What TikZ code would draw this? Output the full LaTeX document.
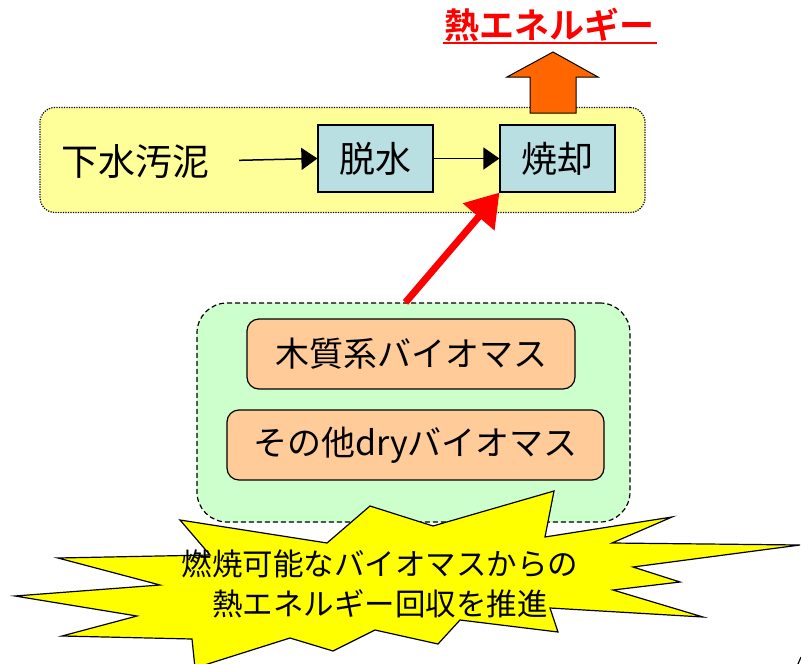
\documentclass[tikz,border=0pt]{standalone}
\usepackage{fontspec}
\newfontfamily\jp[BoldFont={* Bold}]{Noto Sans CJK JP}
\usetikzlibrary{arrows.meta}
\definecolor{procyellow}{HTML}{FFFF99}
\definecolor{boxblue}{HTML}{B9DFE3}
\definecolor{grpgreen}{HTML}{CCFFCC}
\definecolor{peach}{HTML}{FFCC99}
\definecolor{burst}{HTML}{FFFF00}
\definecolor{heatorange}{HTML}{FF6600}
\tikzset{
  procbox/.style={draw=black, line width=1.2pt, fill=boxblue, minimum width=115pt, minimum height=67pt, inner sep=0pt, font=\jp\fontsize{36}{40}\selectfont},
  biobox/.style={draw=black, line width=1.2pt, fill=peach, rounded corners=12pt, minimum height=70pt, inner sep=0pt, font=\jp\fontsize{34}{38}\selectfont},
  flow/.style={line width=1.5pt, -{Triangle[length=16pt,width=22pt]}},
}
\begin{document}
\begin{tikzpicture}[x=1pt,y=-1pt]
\useasboundingbox (0,0) rectangle (801,664);
% process group
\node[draw=black, line width=1.2pt, dash pattern=on 1.2pt off 1.3pt, fill=procyellow, rounded corners=15pt, minimum width=605pt, minimum height=105pt, inner sep=0pt] (proc) at (342.5,160) {};
\node[font=\jp\fontsize{37}{40}\selectfont, inner sep=0pt] (sludge) at (135,161) {下水汚泥};
\node[procbox] (dassui) at (375.5,158.5) {脱水};
\node[procbox] (shoukyaku) at (557.5,158.5) {焼却};
\draw[flow, shorten <=30pt] (sludge.east) -- (dassui.west);
\draw[flow] (dassui.east) -- (shoukyaku.west);
% heat arrow
\draw[draw=black, line width=1pt, fill=heatorange, line join=miter] (530,113) -- (576,113) -- (576,77) -- (598,77) -- (553,52) -- (507,77) -- (530,77) -- cycle;
\node[text=red, font=\jp\bfseries\fontsize{35}{38}\selectfont, inner sep=0pt] (title) at (549,25) {熱エネルギー};
\draw[red, line width=2.2pt] (443,43) -- (657,43);
% biomass group
\node[draw=black, line width=1.2pt, dash pattern=on 5pt off 3pt, fill=grpgreen, rounded corners=30pt, minimum width=433pt, minimum height=219pt, inner sep=0pt] (bio) at (413.5,412.5) {};
\node[biobox, minimum width=328pt] (wood) at (411,354) {木質系バイオマス};
\node[biobox, minimum width=377pt] (dry) at (415.5,445) {その他dryバイオマス};
% red arrow
\draw[red, line width=7pt, -{Triangle[length=32pt,width=40pt]}] ([xshift=-8pt]bio.north) -- (shoukyaku.south west);
% starburst
\draw[draw=black, line width=1.2pt, fill=burst, line join=miter] (180,520) -- (327,543) -- (370,506) -- (433,526) -- (554,491) -- (545,537) -- (672,517) -- (612,543) -- (800,545) -- (633,567) -- (680,582) -- (613,590) -- (703,617) -- (550,608) -- (558,632) -- (460,620) -- (438,644) -- (375,630) -- (333,651) -- (290,638) -- (195,668) -- (192,639) -- (62,636) -- (137,616) -- (15,596) -- (160,585) -- (58,558) -- (210,555) -- cycle;
\node[align=center, font=\jp\fontsize{30.5}{40}\selectfont, inner sep=0pt] (msg) at (380,584) {燃焼可能なバイオマスからの\\熱エネルギー回収を推進};
% tiny fragment at bottom-right corner
\draw[line width=1.2pt] (798,664) -- (801,657);
\end{tikzpicture}
\end{document}
